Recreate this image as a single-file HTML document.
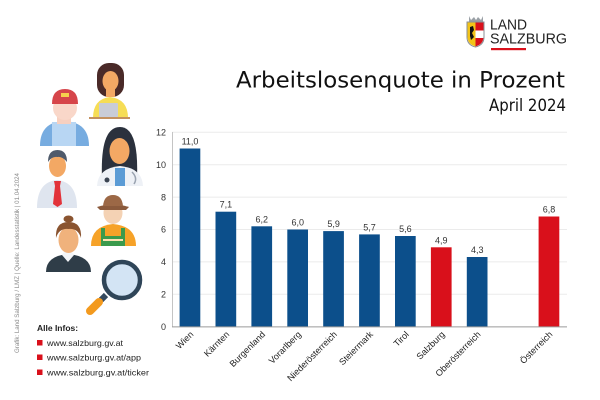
<!DOCTYPE html>
<html><head><meta charset="utf-8"><style>
html,body{margin:0;padding:0;background:#fff;}
svg{display:block;}
</style></head><body>
<svg width="600" height="400" viewBox="0 0 600 400" xmlns="http://www.w3.org/2000/svg">
<rect width="600" height="400" fill="#fff"/>
<!-- logo -->
<g>
  <path d="M469 16 L471 20 L474 17 L476 20 L478 17 L481 20 L483 16 L483 22 L469 22 Z" fill="#9aa0a6"/>
  <path d="M467 22 H484 V37 Q484 45 475.5 47 Q467 45 467 37 Z" fill="#fff" stroke="#8a8f96" stroke-width="1"/>
  <path d="M467.5 22.5 H475.5 V46.5 Q467.5 44 467.5 37 Z" fill="#f2c318"/>
  <path d="M470 27 L473 26 L474 30 L472 33 L474 37 L471 40 L470 36 Z" fill="#111"/>
  <rect x="475.5" y="22.5" width="8" height="8" fill="#d9101b"/>
  <path d="M475.5 38 H483.5 V37 Q483.5 44 475.5 46.5 Z" fill="#d9101b"/>
  <text x="490" y="29.5" font-family="Liberation Sans, sans-serif" font-size="15" fill="#222" textLength="37" lengthAdjust="spacingAndGlyphs">LAND</text>
  <text x="490" y="43.5" font-family="Liberation Sans, sans-serif" font-size="15" fill="#222" textLength="77" lengthAdjust="spacingAndGlyphs">SALZBURG</text>
  <rect x="491" y="48" width="35" height="2.2" fill="#d9101b"/>
</g>
<!-- title -->
<text x="236" y="87.5" font-family="DejaVu Sans, sans-serif" font-size="22" fill="#111" textLength="329" lengthAdjust="spacingAndGlyphs">Arbeitslosenquote in Prozent</text>
<text x="489" y="111" font-family="DejaVu Sans, sans-serif" font-size="17" fill="#111" textLength="77" lengthAdjust="spacingAndGlyphs">April 2024</text>

<!-- gridlines -->
<g stroke="#ebebeb" stroke-width="1">
  <line x1="172" y1="294.3" x2="567" y2="294.3"/>
  <line x1="172" y1="261.9" x2="567" y2="261.9"/>
  <line x1="172" y1="229.5" x2="567" y2="229.5"/>
  <line x1="172" y1="197.1" x2="567" y2="197.1"/>
  <line x1="172" y1="164.7" x2="567" y2="164.7"/>
  <line x1="172" y1="132.3" x2="567" y2="132.3"/>
</g>
<line x1="172.5" y1="132" x2="172.5" y2="327" stroke="#c4c4c4" stroke-width="1"/>
<!-- y ticks -->
<g font-family="Liberation Sans, sans-serif" font-size="9" fill="#333" text-anchor="end">
  <text x="166" y="330">0</text>
  <text x="166" y="297.5">2</text>
  <text x="166" y="265">4</text>
  <text x="166" y="232.7">6</text>
  <text x="166" y="200.3">8</text>
  <text x="166" y="168">10</text>
  <text x="166" y="135.5">12</text>
</g>
<!-- bars -->
<g>
  <rect x="179.6" y="148.5" width="20.7" height="178.2" fill="#0c4f8b"/>
  <rect x="215.5" y="211.7" width="20.7" height="115" fill="#0c4f8b"/>
  <rect x="251.4" y="226.3" width="20.7" height="100.4" fill="#0c4f8b"/>
  <rect x="287.3" y="229.5" width="20.7" height="97.2" fill="#0c4f8b"/>
  <rect x="323.2" y="231.1" width="20.7" height="95.6" fill="#0c4f8b"/>
  <rect x="359.1" y="234.4" width="20.7" height="92.3" fill="#0c4f8b"/>
  <rect x="395.0" y="236.0" width="20.7" height="90.7" fill="#0c4f8b"/>
  <rect x="430.9" y="247.3" width="20.7" height="79.4" fill="#d9101b"/>
  <rect x="466.8" y="257.0" width="20.7" height="69.7" fill="#0c4f8b"/>
  <rect x="538.6" y="216.5" width="20.7" height="110.2" fill="#d9101b"/>
</g>
<line x1="172" y1="326.9" x2="567" y2="326.9" stroke="#9a9a9a" stroke-width="1"/>
<!-- value labels -->
<g font-family="Liberation Sans, sans-serif" font-size="9" fill="#333" text-anchor="middle">
  <text x="190" y="144.5">11,0</text>
  <text x="225.9" y="207.7">7,1</text>
  <text x="261.8" y="222.3">6,2</text>
  <text x="297.7" y="225.5">6,0</text>
  <text x="333.6" y="227.1">5,9</text>
  <text x="369.5" y="230.4">5,7</text>
  <text x="405.4" y="232">5,6</text>
  <text x="441.3" y="243.3">4,9</text>
  <text x="477.2" y="253">4,3</text>
  <text x="549" y="212.5">6,8</text>
</g>
<!-- x labels -->
<g font-family="Liberation Sans, sans-serif" font-size="9" fill="#222" text-anchor="end">
  <text transform="translate(194,335) rotate(-45)">Wien</text>
  <text transform="translate(229.9,335) rotate(-45)">Kärnten</text>
  <text transform="translate(265.8,335) rotate(-45)">Burgenland</text>
  <text transform="translate(301.7,335) rotate(-45)">Vorarlberg</text>
  <text transform="translate(337.6,335) rotate(-45)">Niederösterreich</text>
  <text transform="translate(373.5,335) rotate(-45)">Steiermark</text>
  <text transform="translate(409.4,335) rotate(-45)">Tirol</text>
  <text transform="translate(445.3,335) rotate(-45)">Salzburg</text>
  <text transform="translate(481.2,335) rotate(-45)">Oberösterreich</text>
  <text transform="translate(553,335) rotate(-45)">Österreich</text>
</g>

<!-- vertical source text -->
<text transform="translate(19,353) rotate(-90)" font-family="Liberation Sans, sans-serif" font-size="6.5" fill="#8a8a8a" textLength="180" lengthAdjust="spacingAndGlyphs">Grafik: Land Salzburg / LMZ  |  Quelle: Landesstatistik  |  01.04.2024</text>

<!-- info -->
<text x="37" y="331" font-family="Liberation Sans, sans-serif" font-size="8.5" font-weight="bold" fill="#222">Alle Infos:</text>
<rect x="37" y="340" width="5.5" height="5.5" fill="#d9101b"/>
<rect x="37" y="354.5" width="5.5" height="5.5" fill="#d9101b"/>
<rect x="37" y="369.5" width="5.5" height="5.5" fill="#d9101b"/>
<g font-family="Liberation Sans, sans-serif" font-size="8.5" fill="#222">
  <text x="47" y="346" textLength="76" lengthAdjust="spacingAndGlyphs">www.salzburg.gv.at</text>
  <text x="47" y="360.5" textLength="94" lengthAdjust="spacingAndGlyphs">www.salzburg.gv.at/app</text>
  <text x="47" y="375.5" textLength="102" lengthAdjust="spacingAndGlyphs">www.salzburg.gv.at/ticker</text>
</g>

<!-- illustrations -->
<!-- woman with laptop -->
<g>
  <rect x="97" y="63" width="27" height="34" rx="12" fill="#4a2a28"/>
  <path d="M93 118 Q93 99 110 97 Q128 99 128 118 Z" fill="#f6dd55"/>
  <ellipse cx="110.5" cy="81" rx="8" ry="10" fill="#f3a864"/>
  <rect x="106" y="89" width="9" height="8" fill="#f3a864"/>
  <rect x="99" y="103" width="19" height="14" rx="1" fill="#c9ccd6"/>
  <rect x="89" y="117" width="41" height="2" fill="#c4915e"/>
</g>
<!-- delivery guy -->
<g>
  <path d="M40 146 Q40 122 64 121 Q89 122 89 146 Z" fill="#77ace0"/>
  <rect x="52" y="122" width="24" height="24" fill="#b8d6f3"/>
  <rect x="57" y="112" width="14" height="12" fill="#f7d0c0"/>
  <ellipse cx="65" cy="108" rx="12" ry="12" fill="#f9d7c9"/>
  <path d="M52 104 Q52 89 65 89 Q78 89 78 104 Z" fill="#d6454a"/>
  <rect x="61" y="93" width="8" height="4" fill="#f6d04d"/>
</g>
<!-- doctor -->
<g>
  <path d="M102 178 Q100 127 120 127 Q139 127 137 178 Z" fill="#2b313d"/>
  <path d="M97 186 Q98 168 120 166 Q142 168 143 186 Z" fill="#eef1f6"/>
  <rect x="115" y="168" width="10" height="18" fill="#5b9bd5"/>
  <ellipse cx="119.5" cy="151" rx="10" ry="13" fill="#f3a864"/>
  <circle cx="107" cy="180" r="2.5" fill="#3b4452"/>
  <path d="M132 172 Q138 178 134 184" stroke="#9aa3b0" stroke-width="1.5" fill="none"/>
</g>
<!-- man with tie -->
<g>
  <path d="M37 208 Q37 182 57 180 Q77 182 77 208 Z" fill="#dfe5ef"/>
  <path d="M54 181 L61 181 L60 186 L62 204 L57.5 207 L53 204 L55 186 Z" fill="#e2333a"/>
  <ellipse cx="57.5" cy="166" rx="8.5" ry="11" fill="#f3a864"/>
  <path d="M48 162 Q48 150 57.5 150 Q67 150 67 162 Q62 156 57.5 157 Q52 156 48 162 Z" fill="#4f5a6b"/>
</g>
<!-- farmer -->
<g>
  <path d="M91 246 Q91 226 113 224 Q136 226 136 246 Z" fill="#f6a228"/>
  <path d="M101 246 L101 228 L105 228 L105 236 L121 236 L121 228 L125 228 L125 246 Z" fill="#3b9a4c"/>
  <rect x="103" y="239" width="20" height="2" fill="#fbe3b3"/>
  <ellipse cx="113" cy="213" rx="9.5" ry="11" fill="#f4d2b4"/>
  <path d="M97 207 Q113 202 129 207 L126 210 L100 210 Z" fill="#8b5a3c"/>
  <path d="M103 206 Q104 195 113 195 Q122 195 123 206 Z" fill="#9c6846"/>
</g>
<!-- businesswoman -->
<g>
  <path d="M46 272 Q46 256 68 254 Q91 256 91 272 Z" fill="#2f3d48"/>
  <path d="M62 255 L68 262 L74 255 L72 252 L64 252 Z" fill="#f3f5f8"/>
  <ellipse cx="68.5" cy="240" rx="10" ry="13" fill="#f0b27c"/>
  <path d="M56 238 Q55 222 68.5 222 Q82 222 81 238 Q78 228 68.5 229 Q59 228 56 238 Z" fill="#8a5430"/>
  <ellipse cx="68.5" cy="219" rx="5" ry="3.5" fill="#8a5430"/>
</g>
<!-- magnifier -->
<g>
  <line x1="106" y1="295" x2="101" y2="300" stroke="#34495e" stroke-width="6"/>
  <line x1="99" y1="302" x2="90" y2="311" stroke="#f39a1e" stroke-width="8" stroke-linecap="round"/>
  <circle cx="122" cy="280" r="18" fill="#d3e4f4" stroke="#2f4558" stroke-width="4.5"/>
</g>
</svg>
</body></html>
